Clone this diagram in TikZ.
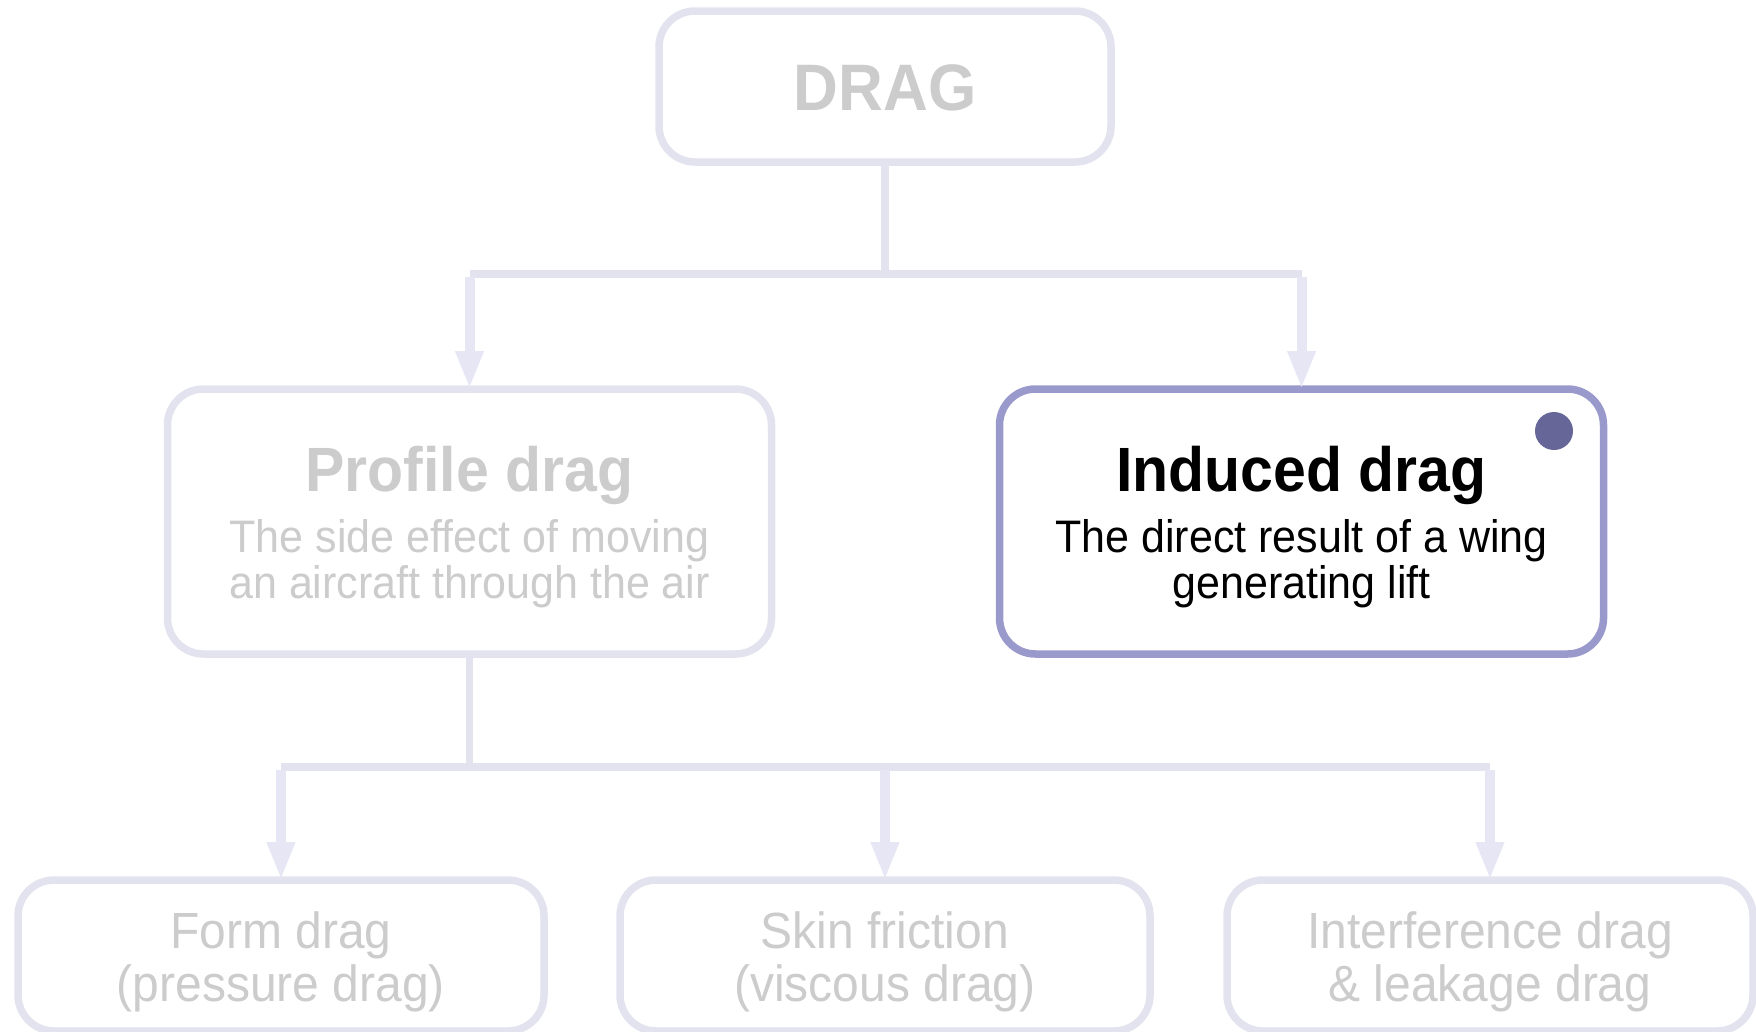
\documentclass[tikz,border=0pt]{standalone}
\usepackage{fontspec}
\setmainfont{Liberation Sans}
\usetikzlibrary{arrows.meta}
\definecolor{linec}{HTML}{E3E3F0}
\definecolor{headc}{HTML}{E6E6F4}
\definecolor{greyt}{HTML}{CCCCCC}
\definecolor{activec}{HTML}{9999CC}
\definecolor{dotc}{HTML}{666699}
\newcommand\tallt[1]{\scalebox{1}[1.06]{#1}}
\tikzset{
  box/.style={draw=linec, line width=7.5pt, rounded corners=36pt, fill=white, inner sep=0pt, outer sep=0pt},
  activebox/.style={box, draw=activec},
  conn/.style={draw=linec, line width=7.5pt},
  arrowc/.style={draw=headc, line width=10pt, -{Triangle[length=38pt, width=26pt]}},
  titletxt/.style={font=\bfseries\fontsize{59}{62}\selectfont, anchor=base, inner sep=0pt},
  subtxt/.style={font=\fontsize{43}{46}\selectfont, anchor=base, inner sep=0pt},
  leaftxt/.style={font=\fontsize{48}{52}\selectfont, anchor=base, inner sep=0pt, text=greyt},
}
\begin{document}
\begin{tikzpicture}[x=1pt, y=-1pt]
\useasboundingbox (0,0) rectangle (1756,1031);
% boxes
\node[box, minimum width=452pt, minimum height=151pt] (drag) at (885,86.5) {};
\node[box, minimum width=604pt, minimum height=265pt] (profile) at (469.5,521.5) {};
\node[activebox, minimum width=604pt, minimum height=265pt] (induced) at (1301.5,521.5) {};
\node[box, minimum width=526pt, minimum height=151pt] (form) at (281,955.5) {};
\node[box, minimum width=530pt, minimum height=151pt] (skin) at (885,955.5) {};
\node[box, minimum width=526pt, minimum height=151pt] (interf) at (1490,955.5) {};
\node[circle, fill=dotc, minimum size=38pt, inner sep=0pt] (dot) at (1554,431) {};
% texts
\node[font=\bfseries\fontsize{62}{64}\selectfont, anchor=base, inner sep=0pt, text=greyt] (dragt) at (885,110) {\tallt{DRAG}};
\node[titletxt, text=greyt] (proft) at (469.5,491) {\tallt{Profile drag}};
\node[subtxt, text=greyt] (profs1) at (469.5,552) {\tallt{The side effect of moving}};
\node[subtxt, text=greyt] (profs2) at (469.5,598) {\tallt{an aircraft through the air}};
\node[titletxt, text=black] (indt) at (1301.5,491) {\tallt{Induced drag}};
\node[subtxt, text=black] (inds1) at (1301.5,552) {\tallt{The direct result of a wing}};
\node[subtxt, text=black] (inds2) at (1301.5,598) {\tallt{generating lift}};
\node[leaftxt] (formt1) at (281,948) {\tallt{Form drag}};
\node[leaftxt] (formt2) at (281,1001) {\tallt{(pressure drag)}};
\node[leaftxt] (skint1) at (885,948) {\tallt{Skin friction}};
\node[leaftxt] (skint2) at (885,1001) {\tallt{(viscous drag)}};
\node[leaftxt] (intt1) at (1490,948) {\tallt{Interference drag}};
\node[leaftxt] (intt2) at (1490,1001) {\tallt{\& leakage drag}};
% connectors level 1
\coordinate (j1) at (885,274);
\coordinate (j1l) at (profile.north |- j1);
\coordinate (j1r) at (induced.north |- j1);
\draw[conn] (drag.south) -- (j1);
\draw[conn] (j1l) -- (j1r);
\draw[arrowc] ([yshift=-3pt]j1l) -- (profile.north);
\draw[arrowc] ([yshift=-3pt]j1r) -- (induced.north);
% connectors level 2
\coordinate (j2) at (469.5,767);
\coordinate (j2l) at (form.north |- j2);
\coordinate (j2m) at (skin.north |- j2);
\coordinate (j2r) at (interf.north |- j2);
\draw[conn] (profile.south) -- (j2);
\draw[conn] (j2l) -- (j2r);
\draw[arrowc] ([yshift=-3pt]j2l) -- (form.north);
\draw[arrowc] ([yshift=-3pt]j2m) -- (skin.north);
\draw[arrowc] ([yshift=-3pt]j2r) -- (interf.north);
\end{tikzpicture}
\end{document}
